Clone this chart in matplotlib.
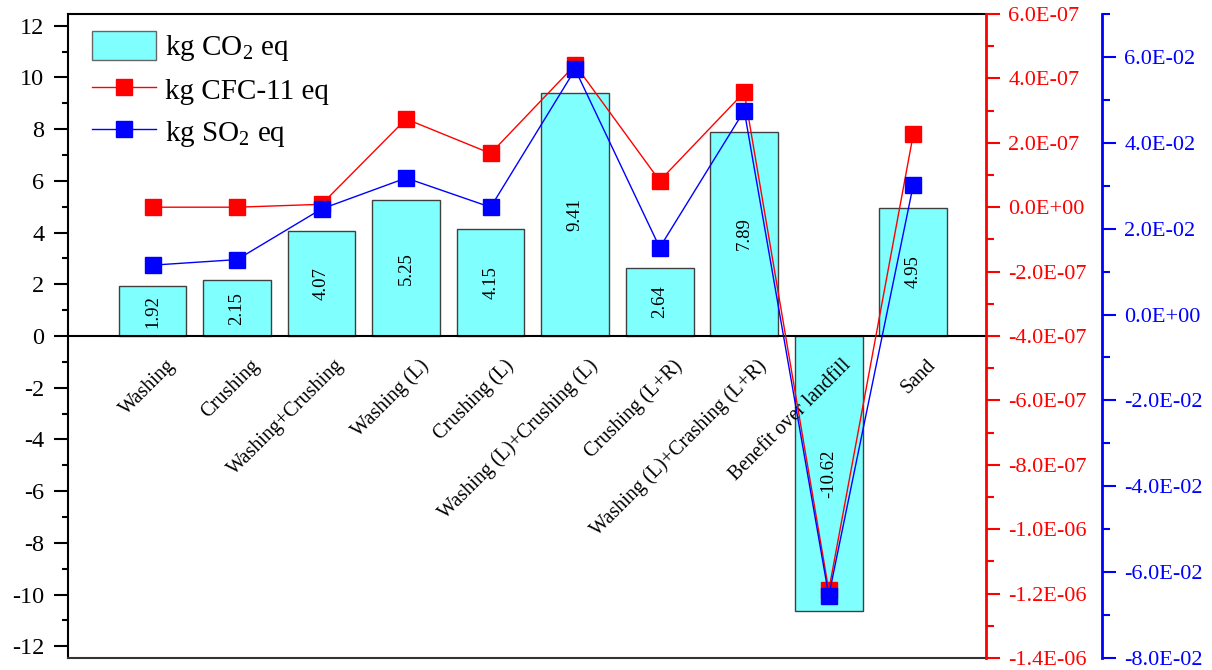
import matplotlib
matplotlib.use("Agg")
import matplotlib.pyplot as plt
import matplotlib.transforms as mtransforms
from matplotlib.ticker import MultipleLocator, FuncFormatter
from matplotlib.patches import Patch
from matplotlib.lines import Line2D
import numpy as np

plt.rcParams['font.family'] = ['Liberation Serif', 'DejaVu Serif']
plt.rcParams['mathtext.fontset'] = 'custom'
plt.rcParams['mathtext.rm'] = 'Liberation Serif'
plt.rcParams['mathtext.it'] = 'Liberation Serif:italic'
plt.rcParams['axes.unicode_minus'] = False

categories = ["Washing", "Crushing", "Washing+Crushing", "Washing (L)", "Crushing (L)",
              "Washing (L)+Crushing (L)", "Crushing (L+R)", "Washing (L)+Crashing (L+R)",
              "Benefit over landfill", "Sand"]
co2 = [1.92, 2.15, 4.07, 5.25, 4.15, 9.41, 2.64, 7.89, -10.62, 4.95]
cfc11 = [0.0, 0.0, 0.09e-7, 2.74e-7, 1.67e-7, 4.42e-7, 0.82e-7, 3.57e-7, -11.9e-7, 2.27e-7]
so2 = [0.0115, 0.0128, 0.0246, 0.0318, 0.0250, 0.0571, 0.0156, 0.0475, -0.0655, 0.0302]

x = np.arange(len(categories))
DPI = 100
fig = plt.figure(figsize=(12.12, 6.70), dpi=DPI)
ax = fig.add_axes([68 / 1212, 12 / 670, 918 / 1212, 644 / 670])

bar_fill = '#80FFFF'
bars = ax.bar(x, co2, width=0.8, color=bar_fill, edgecolor='#404040', linewidth=1.0, zorder=2)
for xi, v in zip(x, co2):
    ax.text(xi, v / 2, f"{v:.2f}", rotation=90, ha='center', va='center',
            fontsize=13.5, color='black', zorder=3)

ax.axhline(0, color='black', lw=1.5, zorder=3)
ax.set_xlim(-1.0, 9.86)
ax.set_ylim(-12.45, 12.45)
ax.yaxis.set_major_locator(MultipleLocator(2))
ax.yaxis.set_minor_locator(MultipleLocator(1))
ax.tick_params(axis='y', which='major', direction='out', length=10, width=1.5,
               labelsize=17.5, pad=7, right=False)
ax.tick_params(axis='y', which='minor', direction='out', length=4.5, width=1.5, right=False)
ax.set_xticks([])
for side in ['left', 'top', 'bottom']:
    ax.spines[side].set_linewidth(1.5)
    ax.spines[side].set_color('black')
ax.spines['bottom'].set_color('#333333')
ax.spines['right'].set_visible(False)

# category names sit just under the zero line
label_tf = mtransforms.offset_copy(ax.transData, fig=fig, x=13, y=-20, units='dots')
for xi, name in zip(x, categories):
    ax.text(xi, 0, name, rotation=45, rotation_mode='anchor', ha='right', va='top',
            fontsize=14.5, transform=label_tf, zorder=4)

# CFC-11 on the red axis
axr = ax.twinx()
axr.set_ylim(-1.4e-6, 6e-7)
axr.plot(x, cfc11, color='red', lw=1.0, marker='s', markersize=11,
         markerfacecolor='red', markeredgecolor='red', zorder=5)
axr.yaxis.set_major_locator(MultipleLocator(2e-7))
axr.yaxis.set_minor_locator(MultipleLocator(1e-7))
axr.yaxis.set_major_formatter(FuncFormatter(lambda v, p: f"{v:.1E}"))
axr.tick_params(axis='y', which='major', colors='red', direction='out', length=10,
                width=1.5, labelsize=16, pad=6)
axr.tick_params(axis='y', which='minor', colors='red', direction='out', length=6, width=1.5)
for side in ['left', 'top', 'bottom']:
    axr.spines[side].set_visible(False)
axr.spines['right'].set_color('red')
axr.spines['right'].set_linewidth(2)

# SO2 on the outer blue axis
axb = ax.twinx()
axb.spines['right'].set_position(('outward', 116 * 72 / DPI))
axb.set_ylim(-0.08, 0.07)
axb.plot(x, so2, color='blue', lw=1.0, marker='s', markersize=11,
         markerfacecolor='blue', markeredgecolor='blue', zorder=5)
axb.yaxis.set_major_locator(MultipleLocator(0.02))
axb.yaxis.set_minor_locator(MultipleLocator(0.01))
axb.yaxis.set_major_formatter(FuncFormatter(lambda v, p: f"{v:.1E}"))
axb.tick_params(axis='y', which='major', colors='blue', direction='out', length=10,
                width=1.5, labelsize=16, pad=6)
axb.tick_params(axis='y', which='minor', colors='blue', direction='out', length=6, width=1.5)
for side in ['left', 'top', 'bottom']:
    axb.spines[side].set_visible(False)
axb.spines['right'].set_color('blue')
axb.spines['right'].set_linewidth(2)

handles = [
    Patch(facecolor=bar_fill, edgecolor='#666666', linewidth=1.0),
    Line2D([], [], color='red', lw=1.0, marker='s', markersize=11),
    Line2D([], [], color='blue', lw=1.0, marker='s', markersize=11),
]
labels = [r'kg CO$_\mathregular{2}$ eq', 'kg CFC-11 eq', r'kg SO$_\mathregular{2}$ eq']
axb.legend(handles, labels, loc='upper left', bbox_to_anchor=(24 / 918, 1 - 17 / 644),
           frameon=False, fontsize=21, borderpad=0, borderaxespad=0,
           handlelength=2.2, handleheight=1.15, handletextpad=0.3, labelspacing=0.4)

fig.savefig('out.png', dpi=DPI)
